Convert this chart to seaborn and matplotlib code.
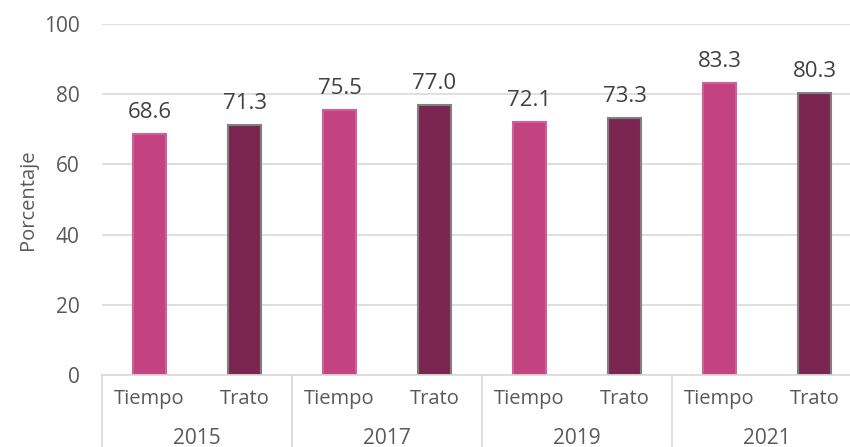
import pandas as pd
import matplotlib.pyplot as plt
import matplotlib.transforms as mtransforms
import seaborn as sns

# Data
years = ["2015", "2017", "2019", "2021"]
series = ["Tiempo", "Trato"]
tiempo = [68.6, 75.5, 72.1, 83.3]
trato = [71.3, 77.0, 73.3, 80.3]

rows = []
for i, yr in enumerate(years):
    rows.append({"pos": f"{yr}-Tiempo", "anio": yr, "serie": "Tiempo", "valor": tiempo[i]})
    rows.append({"pos": f"{yr}-Trato", "anio": yr, "serie": "Trato", "valor": trato[i]})
df = pd.DataFrame(rows)

sns.set_theme(style="white")
plt.rcParams["font.family"] = ["Open Sans", "DejaVu Sans"]

text_color = "#595959"
palette = {"Tiempo": "#C2437F", "Trato": "#7A2651"}
edges = {"Tiempo": "#D0609A", "Trato": "#808080"}

fig = plt.figure(figsize=(8.5, 4.47), dpi=100)
ax = fig.add_axes([102 / 850, 72 / 447, 760 / 850, 351 / 447])

sns.barplot(data=df, x="pos", y="valor", hue="serie", palette=palette, saturation=1,
            dodge=False, width=0.34, legend=False, ax=ax)

# bar edges and value labels
for patch, (_, r) in zip(sorted(ax.patches, key=lambda p: p.get_x()), df.iterrows()):
    patch.set_edgecolor(edges[r["serie"]])
    patch.set_linewidth(1.5)
    ax.annotate(f"{r['valor']:.1f}", (patch.get_x() + patch.get_width() / 2, r["valor"]),
                xytext=(0, 8), textcoords="offset points", ha="center", va="bottom",
                fontsize=16, color="#404040")

ax.set_ylim(0, 100)
ax.set_yticks(range(0, 101, 20))
ax.set_xlim(-0.5, len(df) - 0.5)
ax.yaxis.grid(True, color="#D9D9D9", linewidth=1.2)
ax.set_axisbelow(True)
for s in ["top", "right", "left"]:
    ax.spines[s].set_visible(False)
ax.spines["bottom"].set_color("#D9D9D9")
ax.spines["bottom"].set_linewidth(1.2)

ax.set_ylabel("Porcentaje", fontsize=14.5, color=text_color, labelpad=4)
ax.set_xlabel("")
ax.tick_params(axis="y", labelsize=15, colors=text_color, length=0, pad=16)
ax.tick_params(axis="x", labelsize=14.5, colors=text_color, length=0, pad=10)
ax.set_xticks(range(len(df)))
ax.set_xticklabels(df["serie"])

# year labels and group separators below the axis
trans = mtransforms.blended_transform_factory(ax.transData, ax.transAxes)
for i, yr in enumerate(years):
    ax.text(2 * i + 0.5, -63 / 351, yr, transform=trans, ha="center", va="center",
            fontsize=15, color=text_color)
for b in range(len(years) + 1):
    ax.plot([2 * b - 0.5, 2 * b - 0.5], [0, -80 / 351], transform=trans,
            color="#D9D9D9", linewidth=1.2, clip_on=False)

fig.savefig("out.png", dpi=100)
